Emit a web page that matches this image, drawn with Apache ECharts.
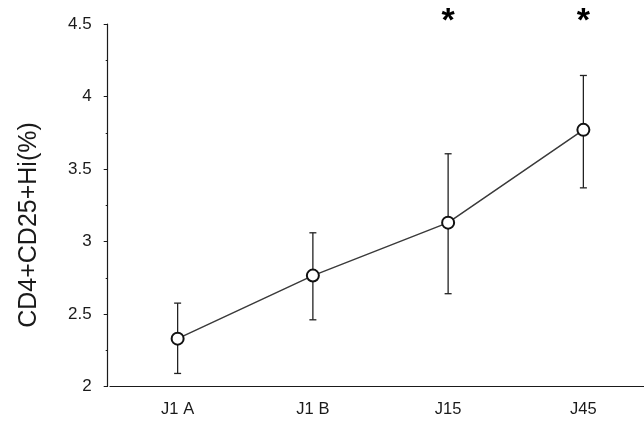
<!DOCTYPE html>
<html>
<head>
<meta charset="utf-8">
<script src="https://cdn.jsdelivr.net/npm/echarts@6/dist/echarts.min.js"></script>
<style>
  html, body { margin: 0; padding: 0; background: #fff; }
  #chart { width: 644px; height: 425px; }
</style>
</head>
<body>
<div id="chart"></div>
<script>
// Time points and measured CD4+CD25+Hi percentages (mean with lower/upper error limits)
const categories = ['J1 A', 'J1 B', 'J15', 'J45'];
const meanValues = [2.33, 2.765, 3.13, 3.77];
const lowerValues = [2.09, 2.46, 2.64, 3.37];
const upperValues = [2.575, 3.06, 3.605, 4.145];
// Time points flagged as significant
const significantPoints = ['J15', 'J45'];
const yTicks = [2, 2.5, 3, 3.5, 4, 4.5];

const FONT = 'Liberation Sans, Arial, sans-serif';
const INK = '#1a1a1a';

const chart = echarts.init(document.getElementById('chart'), null, { renderer: 'canvas' });

const errorData = categories.map((c, i) => [i, lowerValues[i], upperValues[i]]);
const starData = significantPoints.map(c => [categories.indexOf(c), yTicks[yTicks.length - 1]]);

chart.setOption({
  animation: false,
  backgroundColor: '#fff',
  grid: {
    left: 110, width: 541, top: 24, bottom: 38.5,
    containLabel: false, outerBoundsMode: 'none'
  },
  xAxis: {
    type: 'category',
    data: categories,
    boundaryGap: true,
    axisLine: { lineStyle: { color: INK, width: 1.2 } },
    axisTick: { alignWithLabel: true, length: 3, lineStyle: { color: INK } },
    axisLabel: { color: INK, fontFamily: FONT, fontSize: 16.5, margin: 14 },
    splitLine: { show: false }
  },
  yAxis: {
    type: 'value',
    min: yTicks[0],
    max: yTicks[yTicks.length - 1],
    interval: 0.5,
    offset: 2.3,
    axisLine: { show: true, lineStyle: { color: INK, width: 1.2 } },
    axisTick: { show: true, length: 4, lineStyle: { color: INK } },
    minorTick: { show: true, splitNumber: 2, length: 2, lineStyle: { color: INK } },
    axisLabel: { color: INK, fontFamily: FONT, fontSize: 17, margin: 16 },
    splitLine: { show: false }
  },
  graphic: [{
    type: 'text',
    x: 29,
    y: 225,
    rotation: Math.PI / 2,
    style: {
      text: 'CD4+CD25+Hi(%)',
      fill: INK,
      font: '25px ' + FONT,
      align: 'center',
      verticalAlign: 'middle'
    }
  }],
  series: [
    {
      // error bars, drawn beneath the line and markers
      type: 'custom',
      z: 1,
      data: errorData,
      renderItem: function (params, api) {
        const x = api.value(0);
        const lo = api.coord([x, api.value(1)]);
        const hi = api.coord([x, api.value(2)]);
        const cap = 3.5;
        const style = { stroke: '#222', lineWidth: 1.3 };
        return {
          type: 'group',
          children: [
            { type: 'line', shape: { x1: lo[0], y1: lo[1], x2: hi[0], y2: hi[1] }, style },
            { type: 'line', shape: { x1: lo[0] - cap, y1: lo[1], x2: lo[0] + cap, y2: lo[1] }, style },
            { type: 'line', shape: { x1: hi[0] - cap, y1: hi[1], x2: hi[0] + cap, y2: hi[1] }, style }
          ]
        };
      }
    },
    {
      type: 'line',
      z: 3,
      data: meanValues,
      symbol: 'circle',
      symbolSize: 12,
      itemStyle: { color: '#fff', borderColor: '#111', borderWidth: 2 },
      lineStyle: { color: '#3a3a3a', width: 1.5 }
    },
    {
      // significance markers above the plot
      type: 'custom',
      z: 4,
      clip: false,
      data: starData,
      renderItem: function (params, api) {
        const p = api.coord([api.value(0), api.value(1)]);
        return {
          type: 'text',
          x: p[0],
          y: p[1] - 2,
          style: {
            text: '*',
            fill: '#000',
            font: 'bold 34px ' + FONT,
            align: 'center',
            verticalAlign: 'middle'
          }
        };
      }
    }
  ]
});
</script>
</body>
</html>
